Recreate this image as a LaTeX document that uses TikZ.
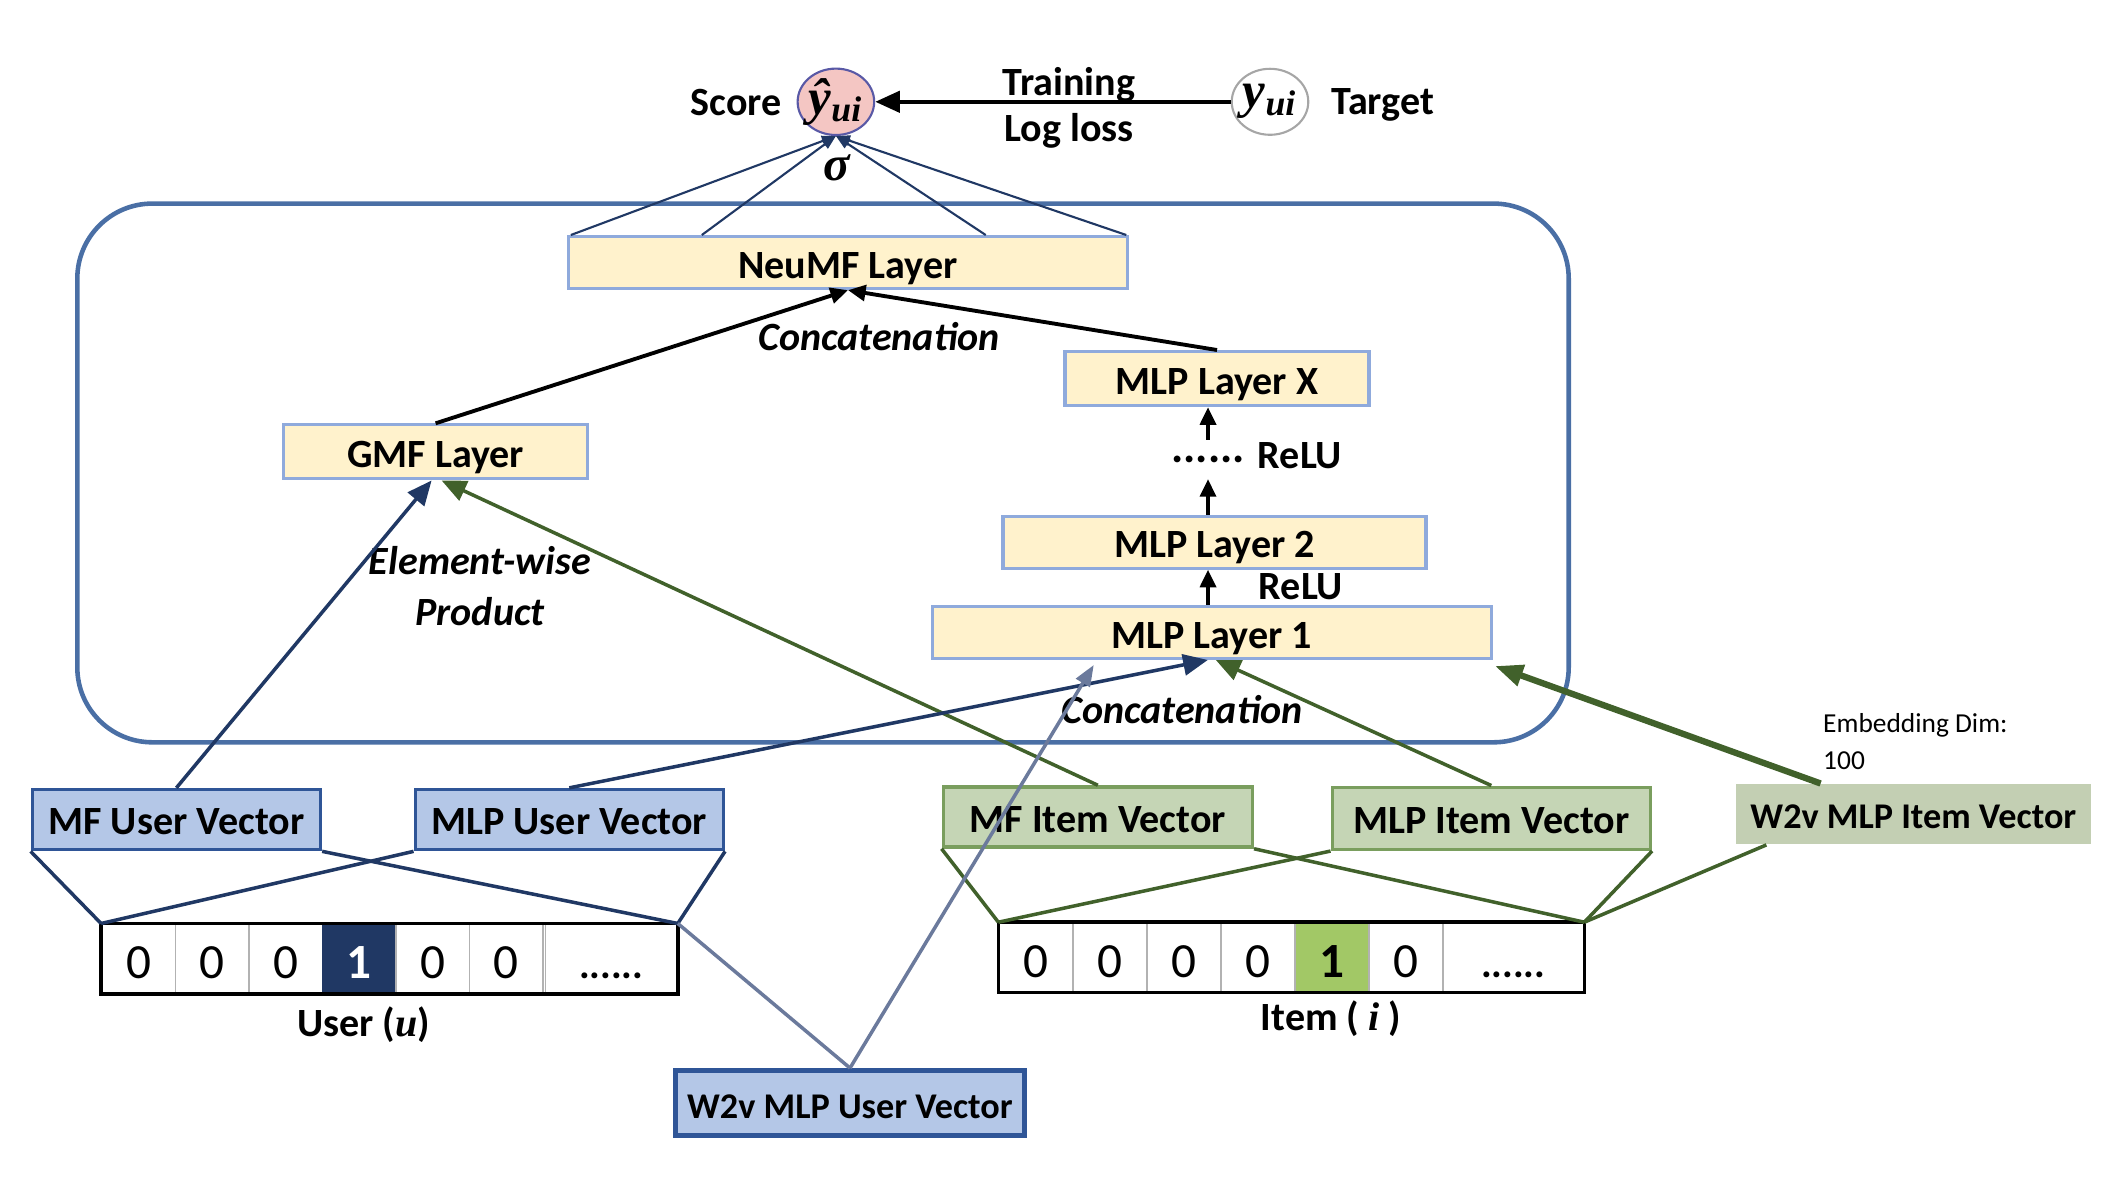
\documentclass[tikz,border=0pt]{standalone}
\usepackage{amsmath}
\usepackage{amssymb}
\usepackage{fontspec}
\setmainfont{Carlito}
\newfontfamily\serifbi[BoldItalicFont={Liberation Serif Bold Italic}]{Liberation Serif}
\usepackage{tikz}
\usetikzlibrary{arrows.meta,calc,shapes.geometric}
\definecolor{layerfill}{HTML}{FFF2CC}
\definecolor{layerline}{HTML}{8FAADC}
\definecolor{userfill}{HTML}{B4C7E7}
\definecolor{userline}{HTML}{2F5597}
\definecolor{itemfill}{HTML}{C5D5B5}
\definecolor{itemline}{HTML}{7A9E5E}
\definecolor{w2vfill}{HTML}{C3CFB3}
\definecolor{darknavy}{HTML}{203864}
\definecolor{leafgreen}{HTML}{41612B}
\definecolor{slateline}{HTML}{6B7A9C}
\definecolor{frameblue}{HTML}{4A6FA5}
\definecolor{scorefill}{HTML}{F4C6C3}
\definecolor{onecell}{HTML}{A2C866}
\newcommand\boxfont{\bfseries\fontsize{11.4}{13}\selectfont}
\newcommand\digitfont{\fontsize{14}{16}\selectfont}
\newcommand\symb[1]{{\serifbi\bfseries\itshape #1}}
\tikzstyle{layer} = [draw=layerline,fill=layerfill,line width=0.9pt,inner sep=0pt,minimum height=0.52cm,text height=9pt,text depth=0pt,font=\boxfont]
\tikzstyle{uservec} = [draw=userline,fill=userfill,line width=1pt,inner sep=0pt,minimum height=0.6cm,text height=8.6pt,text depth=0pt,font=\boxfont]
\tikzstyle{itemvec} = [draw=itemline,fill=itemfill,line width=1pt,inner sep=0pt,minimum height=0.6cm,text height=8.6pt,text depth=0pt,font=\boxfont]
\tikzstyle{cell} = [draw=gray!60,line width=0.4pt,minimum width=0.735cm,minimum height=0.69cm,inner sep=0pt,text height=11.3pt,text depth=0pt,font=\digitfont]
\tikzstyle{usercell} = [cell,fill=darknavy,draw=darknavy,text=white,font=\digitfont\bfseries]
\tikzstyle{itemcell} = [cell,fill=onecell,font=\digitfont\bfseries]
\tikzstyle{tag} = [inner sep=1pt,font=\boxfont]
\tikzstyle{itag} = [inner sep=1pt,font=\boxfont\itshape]
\tikzstyle{navyline} = [darknavy,line width=1pt]
\tikzstyle{greenline} = [leafgreen,line width=1pt]
\tikzstyle{navyarrow} = [navyline,-{Triangle[length=7pt,width=6pt]}]
\tikzstyle{greenarrow} = [greenline,-{Triangle[length=7pt,width=6pt]}]
\tikzstyle{blackarrow} = [black,line width=1.1pt,-{Triangle[length=5pt,width=4.5pt]}]
\tikzstyle{sigmaline} = [darknavy,line width=0.6pt,-{Triangle[length=4pt,width=3pt]}]

\begin{document}
\begin{tikzpicture}
	\useasboundingbox (0,0) rectangle (21.28,-11.90);
	% model frame
	\draw[frameblue,line width=1.3pt,rounded corners=0.75cm] (0.773,-2.036) rectangle (15.687,-7.423);

	% output
	\node[ellipse,draw=gray!70!blue,fill=scorefill,line width=0.6pt,minimum width=0.76cm,minimum height=0.66cm,inner sep=0pt] (yhat) at (8.359,-1.018) {\fontsize{14.5}{17}\selectfont\symb{ŷ}\textsubscript{\symb{ui}}};
	\node[ellipse,draw=gray!70,line width=0.6pt,minimum width=0.76cm,minimum height=0.66cm,inner sep=0pt] (y) at (12.70,-1.018) {\fontsize{14.5}{17}\selectfont\symb{y}\textsubscript{\symb{ui}}};
	\node[tag,anchor=east] (score) at (7.86,-1.03) {Score};
	\node[tag,anchor=west] (target) at (13.27,-1.045) {Target};
	\draw[black,line width=1.2pt,-{Triangle[length=7pt,width=6pt]}] (y.west) -- (yhat.east)
		node[pos=0.455,above,tag,yshift=-1.6pt] {Training}
		node[pos=0.455,below,tag,yshift=-1.6pt] {Log loss};
	\node[tag] (sigma) at (8.37,-1.68) {\fontsize{14}{16}\selectfont\symb{σ}};

	% layers
	\node[layer,minimum width=5.59cm] (neumf) at (8.48,-2.626) {NeuMF Layer};
	\node[layer,minimum width=3.04cm,minimum height=0.54cm] (gmf) at (4.356,-4.519) {GMF Layer};
	\node[layer,minimum width=3.04cm,minimum height=0.54cm] (mlpx) at (12.17,-3.786) {MLP Layer X};
	\node[layer,minimum width=4.23cm] (mlp2) at (12.145,-5.421) {MLP Layer 2};
	\node[layer,minimum width=5.59cm] (mlp1) at (12.118,-6.324) {MLP Layer 1};
	\node[tag,minimum height=0.38cm,inner sep=0pt,font=\bfseries\fontsize{13}{15}\selectfont] (dots) at (12.08,-4.594) {......};
	\node[tag] (relu1) at (13.0,-4.56) {ReLU};
	\node[tag] (relu2) at (13.01,-5.862) {ReLU};
	\node[itag] (concat1) at (8.79,-3.365) {Concatenation};
	\node[itag] (concat2) at (11.82,-7.097) {Concatenation};
	\node[itag,align=center] (elem) at (4.80,-5.86) {Element-wise\\[1.5pt]Product};

	% embedding vectors
	\node[uservec,minimum width=2.88cm] (mfu) at (1.764,-8.196) {MF User Vector};
	\node[uservec,minimum width=3.08cm] (mlpu) at (5.693,-8.196) {MLP User Vector};
	\node[uservec,minimum width=3.49cm,minimum height=0.65cm,line width=1.4pt,font=\bfseries\fontsize{10.3}{12}\selectfont] (w2vu) at (8.50,-11.03) {W2v MLP User Vector};
	\node[itemvec,minimum width=3.09cm] (mfi) at (10.978,-8.17) {MF Item Vector};
	\node[itemvec,minimum width=3.18cm,minimum height=0.62cm] (mlpi) at (14.913,-8.183) {MLP Item Vector};
	\node[fill=w2vfill,inner sep=0pt,minimum width=3.555cm,minimum height=0.6cm,text height=8pt,text depth=0pt,font=\bfseries\fontsize{10.3}{12}\selectfont] (w2vi) at (19.134,-8.142) {W2v MLP Item Vector};
	\node[anchor=north west,align=left,inner sep=0pt,font=\fontsize{7.8}{10.5}\selectfont] (dim) at (18.225,-7.13) {Embedding Dim:\\100};

	% one-hot inputs
	\foreach \v/\s [count=\k] in {0/cell,0/cell,0/cell,1/usercell,0/cell,0/cell}
		\node[\s] (u\k) at ({1.018+0.735*(\k-0.5)},-9.587) {\v};
	\node[cell,minimum width=1.316cm,font=\boxfont] (u7) at (6.113,-9.587) {......};
	\draw[black,line width=1pt] (u1.north west) rectangle (u7.south east);
	\foreach \v/\s [count=\k] in {0/cell,0/cell,0/cell,0/cell,1/itemcell,0/cell}
		\node[\s] (i\k) at ({9.988+0.74*(\k-0.5)},-9.574) {\v};
	\node[cell,minimum width=1.408cm,font=\boxfont] (i7) at (15.132,-9.574) {......};
	\draw[black,line width=1pt] (i1.north west) rectangle (i7.south east);
	\node[tag] (user) at (3.637,-10.245) {User (\symb{u})};
	\node[tag] (item) at (13.31,-10.19) {Item ( \symb{i} )};

	% embedding lookups
	\draw[navyline] (mfu.south west) -- (u1.north west);
	\draw[navyline] (mfu.south east) -- (u7.north east);
	\draw[navyline] (mlpu.south west) -- (u1.north west);
	\draw[navyline] (mlpu.south east) -- (u7.north east);
	\draw[slateline,line width=1pt] (u7.north east) -- (w2vu.north);
	\draw[greenline] (mfi.south west) -- (i1.north west);
	\draw[greenline] (mfi.south east) -- (i7.north east);
	\draw[greenline] (mlpi.south west) -- (i1.north west);
	\draw[greenline] (mlpi.south east) -- (i7.north east);
	\draw[greenline] ($(w2vi.south west)!0.088!(w2vi.south east)$) -- (i7.north east);

	% into the layers
	\draw[navyarrow] (mfu.north) -- ($(gmf.south)+(-0.04,0)$);
	\draw[greenarrow] (mfi.north) -- ($(gmf.south)+(0.06,0)$);
	\draw[navyarrow] (mlpu.north) -- ($(mlp1.south)+(-0.04,0)$);
	\draw[greenarrow] (mlpi.north) -- ($(mlp1.south)+(0.04,0)$);
	\draw[greenline,line width=1.8pt,-{Triangle[length=8pt,width=6pt]}] ($(w2vi.north west)!0.24!(w2vi.north east)$) -- ($(mlp1.south east)+(0.02,-0.06)$);
	\draw[slateline,line width=1pt,-{Triangle[length=6pt,width=4.5pt]}] (w2vu.north) -- ($(mlp1.south west)!0.29!(mlp1.south east)+(0,-0.05)$);
	\draw[blackarrow] (mlp1.north -| dots) -- (mlp2.south -| dots);
	\draw[blackarrow] (mlp2.north -| dots) -- (dots.south);
	\draw[blackarrow] (dots.north) -- (mlpx.south -| dots);
	\draw[blackarrow] (gmf.north) -- (neumf.south);
	\draw[blackarrow] (mlpx.north) -- (neumf.south);
	\foreach \f in {0.007,0.24,0.745,0.995}
		\draw[sigmaline] ($(neumf.north west)!\f!(neumf.north east)$) -- (yhat.south);
\end{tikzpicture}
\end{document}
